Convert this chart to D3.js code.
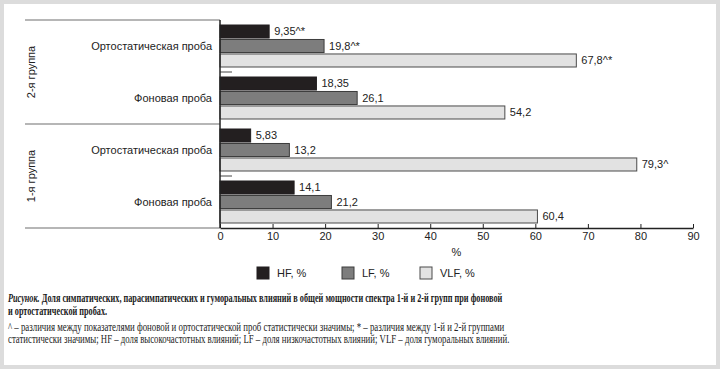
<!DOCTYPE html>
<html>
<head>
<meta charset="utf-8">
<script src="https://cdn.jsdelivr.net/npm/d3@7"></script>
<style>
  body { margin: 0; background: #fff; }
  svg { display: block; }
</style>
</head>
<body>
<div id="chart"></div>
<script>
// data, rows top to bottom
var groups = ['2-я группа', '1-я группа'];
var tests = ['Ортостатическая проба', 'Фоновая проба'];
var series = ['HF, %', 'LF, %', 'VLF, %'];
var hfValues = [9.35, 18.35, 5.83, 14.1];
var lfValues = [19.8, 26.1, 13.2, 21.2];
var vlfValues = [67.8, 54.2, 79.3, 60.4];
var hfMarks = ['^*', '', '', ''];
var lfMarks = ['^*', '', '', ''];
var vlfMarks = ['^*', '', '^', ''];
var xTicks = [0, 10, 20, 30, 40, 50, 60, 70, 80, 90];

var width = 720, height = 370;
var plotLeft = 220, plotRight = 693, plotTop = 20, plotBottom = 228;
var sans = '"Liberation Sans", Arial, sans-serif';
var serif = '"Liberation Serif", "Times New Roman", serif';

var svg = d3.select('#chart').append('svg')
    .attr('width', width)
    .attr('height', height)

// frame
svg.append('rect')
    .attr('x', 2).attr('y', 2)
    .attr('width', width - 4).attr('height', height - 5)
    .style('fill', '#fff')
    .style('stroke', '#dcdcdc')
    .style('stroke-width', 4)

var rows = [];
groups.forEach(function(g) {
    tests.forEach(function(t) { rows.push(g + '|' + t); });
});

var x = d3.scaleLinear().domain([0, 90]).range([plotLeft, plotRight]);
var yRow = d3.scaleBand().domain(rows).range([plotTop, plotBottom]);
var yGroup = d3.scaleBand().domain(groups).range([plotTop, plotBottom]);
var ySeries = d3.scaleBand().domain(series)
    .range([5, yRow.bandwidth() - 5])
    .paddingInner(0.1);

var colors = d3.scaleOrdinal().domain(series).range(['#231f20', '#7d7d7d', '#e2e2e2']);
var strokes = d3.scaleOrdinal().domain(series).range(['#231f20', '#3c3c3c', '#4a4a4a']);

var values = [hfValues, lfValues, vlfValues];
var marks = [hfMarks, lfMarks, vlfMarks];
var bars = [];
series.forEach(function(s, si) {
    rows.forEach(function(r, ri) {
        bars.push({ row: r, series: s, value: values[si][ri], mark: marks[si][ri] });
    });
});

// group frame lines
var frame = svg.append('g').style('stroke', '#6f6f6f').style('stroke-width', 1.2);
groups.forEach(function(g) {
    frame.append('line')
        .attr('x1', 25).attr('x2', plotLeft)
        .attr('y1', yGroup(g)).attr('y2', yGroup(g))
});
frame.append('line')
    .attr('x1', 25).attr('x2', plotLeft)
    .attr('y1', plotBottom).attr('y2', plotBottom)

// group labels
svg.selectAll('.group').data(groups)
    .enter().append('text')
    .attr('transform', function(d) {
        return 'translate(35,' + (yGroup(d) + yGroup.bandwidth() / 2) + ') rotate(-90)';
    })
    .attr('text-anchor', 'middle')
    .style('font-family', sans)
    .style('font-size', '11px')
    .style('fill', '#222')
    .text(function(d) { return d; })

// row labels
svg.selectAll('.row').data(rows)
    .enter().append('text')
    .attr('x', plotLeft - 8)
    .attr('y', function(d) { return yRow(d) + yRow.bandwidth() / 2; })
    .attr('dy', '0.35em')
    .attr('text-anchor', 'end')
    .style('font-family', sans)
    .style('font-size', '11px')
    .style('fill', '#222')
    .text(function(d) { return d.split('|')[1]; })

// bars
svg.append('g').selectAll('rect').data(bars)
    .enter().append('rect')
    .attr('x', x(0))
    .attr('y', function(d) { return yRow(d.row) + ySeries(d.series); })
    .attr('width', function(d) { return x(d.value) - x(0); })
    .attr('height', ySeries.bandwidth())
    .style('fill', function(d) { return colors(d.series); })
    .style('stroke', function(d) { return strokes(d.series); })
    .style('stroke-width', 1)

svg.append('g').selectAll('text').data(bars)
    .enter().append('text')
    .attr('x', function(d) { return x(d.value) + 5; })
    .attr('y', function(d) { return yRow(d.row) + ySeries(d.series) + ySeries.bandwidth() / 2; })
    .attr('dy', '0.35em')
    .style('font-family', sans)
    .style('font-size', '11px')
    .style('fill', '#222')
    .text(function(d) { return String(d.value).replace('.', ',') + d.mark; })

// short dashes between tests
svg.append('g').selectAll('line').data(rows.filter(function(d, i) { return i % 2 === 1; }))
    .enter().append('line')
    .attr('x1', x(0)).attr('x2', x(0) + 12)
    .attr('y1', function(d) { return yRow(d); })
    .attr('y2', function(d) { return yRow(d); })
    .style('stroke', '#444')
    .style('stroke-width', 1)

// axes
var xAxis = d3.axisBottom(x)
    .tickValues(xTicks)
    .tickSize(-4)
    .tickSizeOuter(0)
    .tickPadding(4)
    .tickFormat(d3.format('d'))

var xGuide = svg.append('g')
    .attr('transform', 'translate(0,' + plotBottom + ')')
    .call(xAxis)
xGuide.selectAll('path').style('stroke', '#222').style('stroke-width', 1.5)
xGuide.selectAll('line').style('stroke', '#222')
xGuide.selectAll('text')
    .style('font-family', sans)
    .style('font-size', '11px')
    .style('fill', '#222')

svg.append('line')
    .attr('x1', x(0)).attr('x2', x(0))
    .attr('y1', plotTop).attr('y2', plotBottom)
    .style('stroke', '#222')
    .style('stroke-width', 1.5)

svg.append('text')
    .attr('x', (plotLeft + plotRight) / 2)
    .attr('y', 256)
    .attr('text-anchor', 'middle')
    .style('font-family', sans)
    .style('font-size', '11px')
    .style('fill', '#222')
    .text('%')

// legend
var legendX = [257, 342, 420];
var legend = svg.append('g').selectAll('g').data(series)
    .enter().append('g')
    .attr('transform', function(d, i) { return 'translate(' + legendX[i] + ',267)'; })
legend.append('rect')
    .attr('width', 12).attr('height', 12)
    .style('fill', function(d) { return colors(d); })
    .style('stroke', function(d) { return strokes(d); })
legend.append('text')
    .attr('x', 20).attr('y', 10)
    .style('font-family', sans)
    .style('font-size', '11px')
    .style('fill', '#222')
    .text(function(d) { return d; })

// caption
function fitLine(sel, target) {
    var w = sel.node().getComputedTextLength();
    return target / w;
}

var cap1 = svg.append('text')
    .style('font-family', serif)
    .style('font-size', '13px')
    .style('font-weight', 'bold')
    .style('fill', '#1a1a1a')
cap1.append('tspan').style('font-style', 'italic').text('Рисунок.');
cap1.append('tspan').text('  Доля симпатических, парасимпатических и гуморальных влияний в общей мощности спектра 1-й и 2-й групп при фоновой');
var k1 = fitLine(cap1, 495);
cap1.attr('transform', 'translate(8,302) scale(' + k1 + ',1)')

svg.append('text')
    .attr('transform', 'translate(8,315) scale(' + k1 + ',1)')
    .style('font-family', serif)
    .style('font-size', '13px')
    .style('font-weight', 'bold')
    .style('fill', '#1a1a1a')
    .text('и ортостатической пробах.')

var notes = [
    '^ – различия между показателями фоновой и ортостатической проб статистически значимы; * – различия между 1-й  и 2-й группами',
    'статистически значимы; HF  – доля высокочастотных влияний; LF – доля низкочастотных влияний; VLF – доля гуморальных влияний.'
];
var noteWidth = [497, 502];
notes.forEach(function(n, i) {
    var t = svg.append('text')
        .style('font-family', serif)
        .style('font-size', '12px')
        .style('fill', '#222')
        .text(n)
    var k = fitLine(t, noteWidth[i]);
    t.attr('transform', 'translate(8,' + (331 + i * 12) + ') scale(' + k + ',1)')
});
</script>
</body>
</html>
